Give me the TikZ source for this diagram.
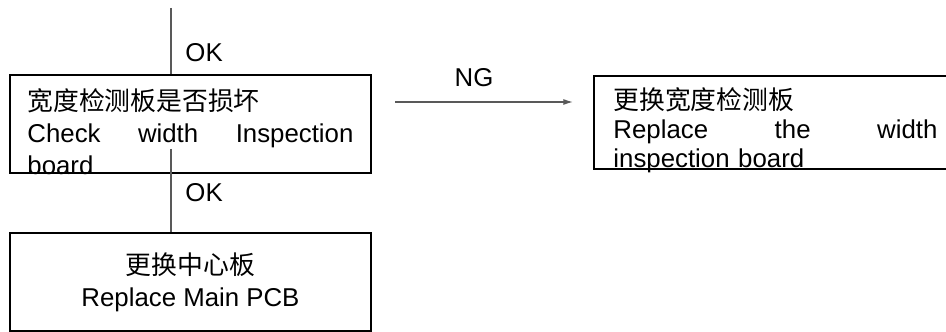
\documentclass[tikz,border=0pt]{standalone}
\usepackage{fontspec}
\setmainfont{Liberation Sans}
\newfontfamily\cjk{Noto Sans CJK SC}
\usepackage{tikz}
\usetikzlibrary{arrows.meta, positioning, calc}
\tikzset{
	box/.style={rectangle, draw, line width=0.9pt, inner sep=0pt},
	txt/.style={font=\fontsize{12pt}{15pt}\selectfont, inner sep=0pt},
	line/.style={draw, black!65, line width=0.6pt},
	arrow/.style={line, -{Latex[length=4.5pt, width=2.8pt]}}
}
\begin{document}
\begin{tikzpicture}[x=0.465pt, y=-0.465pt]
	\useasboundingbox (0,0) rectangle (946,332);
	% Boxes
	\node[box, minimum width=167.9pt, minimum height=45.6pt] (check) at (190.5,124) {};
	\node[box, minimum width=170.2pt, minimum height=43.2pt] (swap) at (777,122.5) {};
	\node[box, minimum width=167.9pt, minimum height=45.6pt] (main) at (190.5,282) {};
	
	% Box texts
	\node[txt, text width=151.6pt, anchor=north west] (checktext) at (27,88) {{\cjk 宽度检测板是否损坏}\\Check\hfill width\hfill Inspection\\board};
	\node[txt, font=\fontsize{12pt}{13.6pt}\selectfont, text width=150.7pt, anchor=north west] (swaptext) at (613,87) {{\cjk 更换宽度检测板}\\Replace\hfill the\hfill width\\inspection board};
	\node[txt, align=center] (maintext) at (190.5,282) {{\cjk 更换中心板}\\Replace Main PCB};
	
	% Connectors
	\coordinate (in) at (171,8);
	\coordinate (out) at (171,149);
	\coordinate (ngfrom) at (395,102);
	\coordinate (ngto) at (573,102);
	\draw[line] (in) -- (in |- check.north);
	\draw[line] (out) -- (out |- main.north);
	\draw[arrow] (ngfrom) -- (ngto);
	
	% Labels
	\node[txt, anchor=west] (ok1) at (185,52.5) {OK};
	\node[txt, anchor=west] (ok2) at (185,192.5) {OK};
	\node[txt] (ng) at (474,77.5) {NG};
\end{tikzpicture}
\end{document}
